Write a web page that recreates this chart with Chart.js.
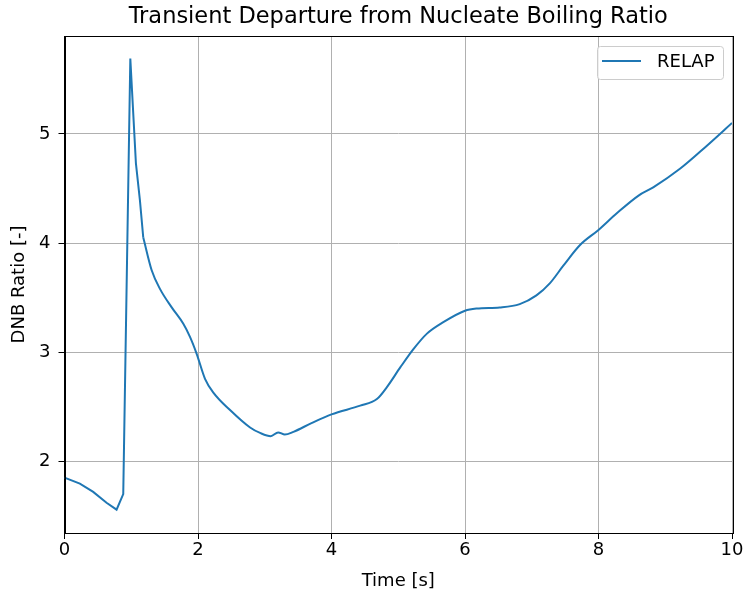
<!DOCTYPE html>
<html>
<head>
<meta charset="utf-8">
<title>Transient DNB Ratio</title>
<script src="https://cdn.jsdelivr.net/npm/chart.js@4.4.0/dist/chart.umd.min.js"></script>
<style>
  html, body { margin: 0; padding: 0; background: #fff; }
  #wrap { width: 746px; height: 600px; }
</style>
</head>
<body>
<div id="wrap"><canvas id="dnbChart" width="746" height="600"></canvas></div>
<script>
// Values
const times = [0, 0.23, 0.43, 0.63, 0.78, 0.88, 0.986, 1.07, 1.13, 1.18, 1.306, 1.43, 1.606, 1.78, 1.88, 1.98, 2.105, 2.23, 2.48, 2.78, 2.93, 3.09, 3.20, 3.30, 3.43, 3.7, 4.0, 4.43, 4.68, 4.83, 5.03, 5.23, 5.43, 5.675, 6.0, 6.175, 6.52, 6.82, 7.07, 7.27, 7.47, 7.72, 8.0, 8.27, 8.60, 8.82, 9.22, 9.62, 10.0];
const dnbRatio = [1.85, 1.795, 1.72, 1.62, 1.557, 1.70, 5.69, 4.73, 4.39, 4.05, 3.75, 3.58, 3.41, 3.26, 3.14, 2.985, 2.756, 2.63, 2.47, 2.31, 2.26, 2.23, 2.265, 2.245, 2.27, 2.35, 2.43, 2.51, 2.57, 2.68, 2.86, 3.03, 3.17, 3.275, 3.38, 3.40, 3.41, 3.44, 3.52, 3.63, 3.79, 3.98, 4.12, 4.27, 4.435, 4.51, 4.68, 4.89, 5.10];
const xTicks = [0, 2, 4, 6, 8, 10];
const yTicks = [2, 3, 4, 5];
const seriesName = 'RELAP';
// the spike part is drawn with straight segments, the rest smoothed
const spikeEnd = 9;

const FONT = 'DejaVu Sans';
const BLUE = '#1f77b4';

const points = times.map((t, i) => ({ x: t, y: dnbRatio[i] }));

// Draws the box frame (top/right spines) and the legend inside the plot
const framePlugin = {
    id: 'frame',
    afterDraw(chart) {
        const { ctx, chartArea: a } = chart;
        ctx.save();
        ctx.strokeStyle = '#000';
        ctx.lineWidth = 1;
        ctx.strokeRect(Math.round(a.left) + 0.5, Math.round(a.top) + 0.5,
            Math.round(a.right - a.left), Math.round(a.bottom - a.top));

        // legend box, top right
        const w = 126, h = 33;
        const x = a.right - 9 - w, y = a.top + 10;
        ctx.fillStyle = 'rgba(255,255,255,0.8)';
        ctx.strokeStyle = '#cccccc';
        ctx.beginPath();
        ctx.roundRect(x + 0.5, y + 0.5, w, h, 3);
        ctx.fill();
        ctx.stroke();
        ctx.strokeStyle = BLUE;
        ctx.lineWidth = 2;
        ctx.beginPath();
        ctx.moveTo(x + 5, y + 15);
        ctx.lineTo(x + 44, y + 15);
        ctx.stroke();
        ctx.fillStyle = '#000';
        ctx.font = '18px "' + FONT + '"';
        ctx.textBaseline = 'middle';
        ctx.fillText(seriesName, x + 60, y + 16);
        ctx.restore();
    }
};

const lineStyle = {
    borderColor: BLUE,
    borderWidth: 2,
    pointRadius: 0,
    fill: false
};

new Chart(document.getElementById('dnbChart'), {
    type: 'line',
    data: {
        datasets: [
            { ...lineStyle, label: seriesName, data: points.slice(0, spikeEnd + 1), tension: 0 },
            { ...lineStyle, label: seriesName, data: points.slice(spikeEnd), cubicInterpolationMode: 'monotone' }
        ]
    },
    options: {
        responsive: false,
        animation: false,
        devicePixelRatio: 1,
        layout: { padding: { left: 0, right: 14, top: 0, bottom: 0 } },
        plugins: {
            legend: { display: false },
            tooltip: { enabled: false },
            title: {
                display: true,
                fullSize: false,
                text: 'Transient Departure from Nucleate Boiling Ratio',
                color: '#000',
                font: { family: FONT, size: 22.5, weight: 'normal', lineHeight: 1.2 },
                padding: { top: 3.3, bottom: 5.7 }
            }
        },
        scales: {
            x: {
                type: 'linear',
                min: 0,
                max: 10,
                afterBuildTicks: (s) => { s.ticks = xTicks.map(v => ({ value: v })); },
                afterFit: (s) => { s.height = 67; },
                ticks: {
                    color: '#000',
                    font: { family: FONT, size: 18 },
                    padding: 1,
                    maxRotation: 0
                },
                grid: { color: '#b0b0b0', lineWidth: 1, tickColor: '#000', tickLength: 6 },
                border: { color: '#000', width: 1 },
                title: {
                    display: true,
                    text: 'Time [s]',
                    color: '#000',
                    font: { family: FONT, size: 18 },
                    padding: { top: 0, bottom: 8 }
                }
            },
            y: {
                type: 'linear',
                min: 1.343,
                max: 5.897,
                afterBuildTicks: (s) => { s.ticks = yTicks.map(v => ({ value: v })); },
                afterFit: (s) => { s.width = 64.5; },
                ticks: {
                    color: '#000',
                    font: { family: FONT, size: 18 },
                    padding: 8,
                    includeBounds: false
                },
                grid: { color: '#b0b0b0', lineWidth: 1, tickColor: '#000', tickLength: 6 },
                border: { color: '#000', width: 1 },
                title: {
                    display: true,
                    text: 'DNB Ratio [-]',
                    color: '#000',
                    font: { family: FONT, size: 18 },
                    padding: { top: 9, bottom: 0 }
                }
            }
        }
    },
    plugins: [framePlugin]
});
</script>
</body>
</html>
